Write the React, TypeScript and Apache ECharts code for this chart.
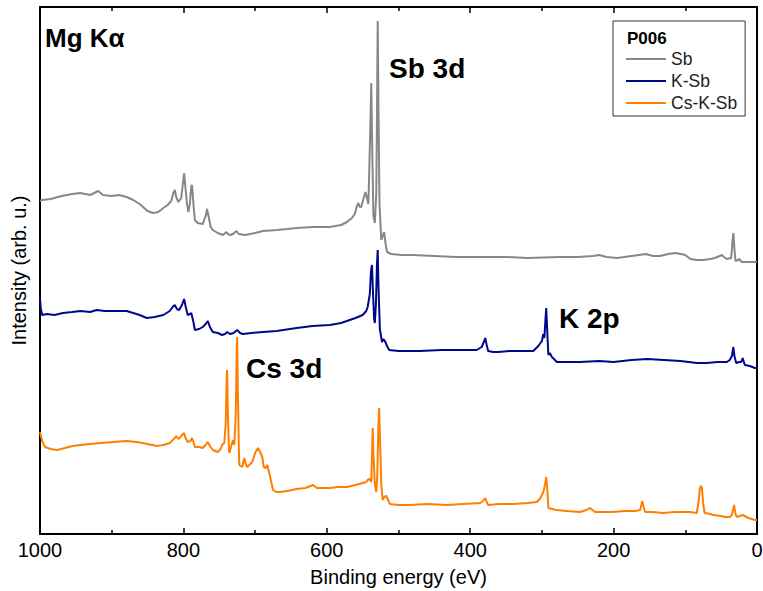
import React, { useEffect, useRef } from "react";
import * as echarts from "echarts";

// Binding energy (eV), intensity (arb. u., offset stacked)
const sbPoints: [number, number][] = [
  [1000, 333], [997, 334], [985, 335], [970, 338], [955, 340], [944, 341], [930, 339], [919, 343], [912, 339],
  [900, 338], [890, 339], [879, 337], [870, 334], [861, 330], [850, 323], [842, 321], [835, 322], [828, 326],
  [822, 329], [817, 333], [814, 341], [812, 344], [810, 337], [807, 332], [803, 336], [800, 355], [799, 361],
  [797, 345], [795, 330], [793, 322], [791, 330], [789, 348], [788, 349], [786, 330], [784, 314], [780, 311],
  [773, 310], [769, 318], [767, 325], [765, 318], [762, 307], [759, 304], [752, 301], [745, 299], [740, 302],
  [738, 300], [734, 299], [731, 300], [726, 303], [723, 300], [714, 299], [700, 301], [689, 303], [670, 304],
  [655, 305], [642, 306], [620, 307], [596, 307], [580, 309], [572, 312], [565, 316], [561, 320], [558, 328],
  [556, 331], [554, 327], [552, 327], [549, 335], [546, 342], [544, 336], [542, 330], [539.5, 400], [538, 451],
  [536.5, 380], [535, 318], [533, 311], [531, 340], [530, 420], [529, 513], [528, 430], [526.5, 330], [524, 294],
  [521.5, 299], [520, 302], [518, 290], [516, 282], [510, 280], [495, 279], [480, 279], [450, 278], [420, 277],
  [386, 277], [350, 277], [320, 276], [275, 277], [250, 277], [229, 278], [220, 279], [210, 277], [195, 276],
  [175, 278], [155, 280], [145, 278], [135, 278], [124, 280], [114, 281], [106, 280], [100, 279], [93, 275],
  [84, 274], [75, 274], [65, 275], [59, 276], [52, 278], [49, 279], [46, 277], [42, 275], [36, 276], [34.5, 290],
  [33, 301], [31.5, 285], [30, 273], [27, 274], [25, 275], [21, 272], [10, 272], [3, 272], [0, 272],
];

const kSbPoints: [number, number][] = [
  [1000, 236], [999, 226], [997, 219], [990, 220], [980, 219], [968, 221], [955, 222], [944, 223], [930, 222],
  [921, 224], [910, 223], [895, 223], [879, 223], [870, 221], [861, 219], [851, 216], [840, 217], [828, 219],
  [819, 223], [815, 227], [812, 229], [809, 225], [806, 224], [802, 229], [800, 233], [799, 235], [797, 228],
  [794, 219], [791, 220], [789, 221], [786, 212], [784, 204], [778, 205], [773, 207], [769, 210], [766, 213],
  [763, 207], [759, 202], [752, 201], [746, 199], [742, 200], [739, 202], [735, 200], [730, 201], [725, 204],
  [721, 201], [717, 200], [705, 201], [689, 202], [670, 203], [642, 206], [620, 208], [596, 209], [580, 211],
  [572, 213], [560, 216], [550, 219], [545, 223], [543, 227], [540, 240], [538.5, 262], [537, 269], [535.5, 240],
  [534, 215], [533, 211], [531.5, 230], [530, 270], [529, 284], [528, 250], [526, 205], [523, 192], [521, 195],
  [519, 193], [516, 188], [513, 184], [500, 183], [485, 183], [470, 183], [440, 184], [410, 184], [391, 184],
  [384, 187], [381, 192], [379, 196], [377, 189], [375, 183], [368, 182], [361, 182], [345, 183], [330, 183],
  [312, 183], [305, 188], [300, 193], [298, 200], [296.5, 196], [295, 215], [294, 226], [293, 210], [291, 179],
  [289, 181], [286, 177], [279, 172], [260, 172], [247, 172], [220, 173], [200, 172], [175, 174], [153, 175],
  [130, 174], [107, 173], [95, 172], [84, 171], [70, 171], [55, 172], [42, 172], [38, 174], [35, 178], [33, 187],
  [31.5, 178], [29, 171], [25, 172], [22, 172], [20, 176], [17, 169], [10, 168], [3, 166], [0, 166],
];

const csKSbPoints: [number, number][] = [
  [1000, 102], [998, 96], [996, 91], [993, 87], [985, 85], [976, 84], [965, 86], [955, 88], [944, 89], [930, 90],
  [915, 91], [898, 92], [880, 93], [865, 92], [850, 90], [837, 88], [828, 89], [819, 91], [812, 96], [810, 98],
  [807, 95], [805, 96], [802, 99], [799, 101], [797, 96], [794, 92], [790, 93], [788, 96], [786, 92], [784, 87],
  [778, 87], [773, 86], [769, 89], [766, 92], [763, 88], [759, 84], [752, 82], [748, 85], [746, 89], [743, 91],
  [741, 110], [739.5, 160], [739, 164], [738, 120], [736.5, 85], [736, 81], [734, 86], [731, 94], [729, 89],
  [727, 120], [725.5, 190], [725, 197], [724, 140], [722.5, 80], [722, 69], [718, 67], [715, 76], [713, 70],
  [711, 67], [704, 72], [700, 81], [696, 86], [693, 82], [690, 77], [688, 67], [685, 66], [683, 69], [680, 60],
  [679, 57], [675, 44], [670, 42], [665, 42], [655, 43], [642, 45], [630, 46], [619, 49], [614, 46], [609, 46],
  [595, 46], [585, 47], [572, 47], [560, 49], [550, 51], [545, 52], [543, 54], [540, 55], [538, 52], [537, 80],
  [536, 106], [535, 80], [533, 50], [531, 42], [529.5, 60], [528, 110], [527, 126], [526, 100], [524, 50],
  [522, 34], [520, 37], [517, 38], [512, 30], [500, 29], [484, 29], [460, 30], [432, 29], [410, 30], [386, 31],
  [382, 33], [379, 36], [377, 32], [375, 29], [360, 30], [340, 30], [320, 31], [307, 32], [302, 36], [298, 42],
  [296, 48], [294, 57], [292.5, 45], [291, 26], [280, 24], [265, 23], [247, 22], [238, 24], [233, 26], [226, 22],
  [213, 22], [201, 22], [185, 23], [170, 23], [163, 24], [161, 30], [160, 33], [158.5, 28], [156, 22], [145, 22],
  [131, 21], [115, 22], [100, 22], [93, 22], [84, 21], [81, 35], [80, 44], [78.5, 48], [77, 47], [75, 30],
  [73, 21], [65, 20], [61, 19], [50, 18], [45, 17], [38, 17], [35, 19], [32, 29], [30, 20], [28, 17], [24, 18],
  [20, 19], [12, 16], [3, 14], [0, 14],
];

const seriesNames = ["Sb", "K-Sb", "Cs-K-Sb"];
const seriesColors = ["#878787", "#00088a", "#ff7f00"];
const legendTitle = "P006";
const annotations = [
  { text: "Mg K\u03b1", x: 45, y: 38, size: 26 },
  { text: "Sb 3d", x: 389, y: 68, size: 28 },
  { text: "K 2p", x: 559, y: 318, size: 28 },
  { text: "Cs 3d", x: 246, y: 368, size: 28 },
];

const FONT = '"Liberation Sans", Arial, Helvetica, sans-serif';

export default function App() {
  const ref = useRef<HTMLDivElement>(null);
  useEffect(() => {
    if (!ref.current) return;
    const chart = echarts.init(ref.current, undefined, { renderer: "svg" });
    const axisCommon = {
      type: "value" as const,
      inverse: true,
      min: 0,
      max: 1000,
      interval: 200,
      splitLine: { show: false },
      axisLine: { show: true, onZero: false, lineStyle: { color: "#000", width: 2 } },
      axisTick: { show: true, inside: true, length: 6, lineStyle: { color: "#000", width: 1.5 } },
      minorTick: { show: true, splitNumber: 2, length: 4, lineStyle: { color: "#000", width: 1.5 } },
    };
    const datasets = [sbPoints, kSbPoints, csKSbPoints];
    chart.setOption({
      animation: false,
      backgroundColor: "#fff",
      textStyle: { fontFamily: FONT },
      grid: { left: 40, right: 6, top: 7, bottom: 57, containLabel: false, outerBoundsMode: "none" },
      xAxis: [
        {
          ...axisCommon,
          position: "bottom",
          axisLabel: {
            show: true,
            fontSize: 20,
            color: "#000",
            margin: 6,
            fontFamily: FONT,
            formatter: (v: number) => String(v),
          },
          name: "Binding energy (eV)",
          nameLocation: "middle",
          nameGap: 33,
          nameTextStyle: { fontSize: 20, color: "#000", fontFamily: FONT },
        },
        {
          ...axisCommon,
          position: "top",
          axisLabel: { show: false },
        },
      ],
      yAxis: [
        {
          type: "value",
          min: 0,
          max: 527,
          position: "left",
          splitLine: { show: false },
          axisLine: { show: true, onZero: false, lineStyle: { color: "#000", width: 2 } },
          axisTick: { show: false },
          axisLabel: { show: false },
          name: "Intensity (arb. u.)",
          nameLocation: "middle",
          nameGap: 11,
          nameTextStyle: { fontSize: 20, color: "#000", fontFamily: FONT },
        },
        {
          type: "value",
          min: 0,
          max: 527,
          position: "right",
          splitLine: { show: false },
          axisLine: { show: true, onZero: false, lineStyle: { color: "#000", width: 2 } },
          axisTick: { show: false },
          axisLabel: { show: false },
        },
      ],
      legend: {
        show: true,
        orient: "vertical",
        left: 613,
        top: 21,
        padding: [29, 8, 4, 13],
        itemGap: 4,
        itemWidth: 40,
        itemHeight: 2,
        icon: "rect",
        borderColor: "#333",
        borderWidth: 1,
        data: seriesNames,
        textStyle: { fontSize: 17.5, color: "#222", fontFamily: FONT, lineHeight: 17 },
      },
      series: datasets.map((pts, i) => ({
        name: seriesNames[i],
        type: "line",
        xAxisIndex: 0,
        yAxisIndex: 0,
        data: pts,
        symbol: "none",
        showSymbol: false,
        color: seriesColors[i],
        lineStyle: { color: seriesColors[i], width: 2 },
        z: 2 + i,
      })),
      graphic: [
        {
          type: "text",
          x: 627,
          y: 38,
          style: {
            text: legendTitle,
            fontSize: 17,
            fontWeight: "bold",
            fontFamily: FONT,
            fill: "#000",
            verticalAlign: "middle",
          },
        },
        ...annotations.map((a) => ({
          type: "text",
          x: a.x,
          y: a.y,
          style: {
            text: a.text,
            fontSize: a.size,
            fontWeight: "bold",
            fontFamily: FONT,
            fill: "#000",
            verticalAlign: "middle",
          },
        })),
      ],
    });
    return () => chart.dispose();
  }, []);
  return (
    <div
      ref={ref}
      style={{ position: "fixed", left: 0, top: 0, width: 763, height: 591, background: "#fff" }}
    />
  );
}
